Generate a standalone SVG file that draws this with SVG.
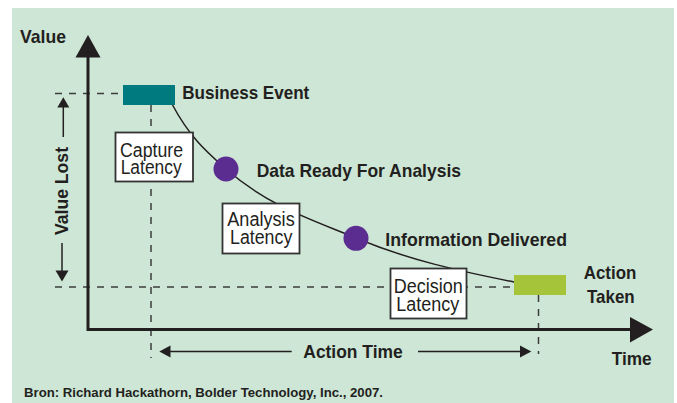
<svg xmlns="http://www.w3.org/2000/svg" width="677" height="403" viewBox="0 0 677 403">
  <style>
    .lbl { font-family: "Liberation Sans", Arial, sans-serif; font-weight: bold; font-size: 18.5px; fill: #231F20; }
    .box-text { font-family: "Liberation Sans", Arial, sans-serif; font-size: 19.5px; fill: #231F20; }
    .box { fill: #FFFFFF; stroke: #333333; stroke-width: 1.8; }
    .guide { fill: none; stroke: #3C3C3C; stroke-width: 1.5; stroke-dasharray: 7 7; }
    .axis { fill: none; stroke: #231F20; stroke-width: 3; }
    .thin { fill: none; stroke: #231F20; stroke-width: 1.5; }
    .head { fill: #231F20; }
    .src { font-family: "Liberation Sans", Arial, sans-serif; font-weight: bold; font-size: 12px; fill: #231F20; }
  </style>

  <!-- panel -->
  <rect x="0" y="0" width="677" height="403" fill="#FFFFFF"/>
  <rect x="12" y="8" width="662" height="395" fill="#CDE6D5"/>

  <!-- guide lines (dashed) -->
  <g id="guides">
    <line class="guide" x1="55" y1="93.5" x2="123" y2="93.5"/>
    <line class="guide" x1="55" y1="287" x2="514" y2="287"/>
    <line class="guide" x1="151" y1="105" x2="151" y2="358"/>
    <line class="guide" x1="538.5" y1="295" x2="538.5" y2="354"/>
  </g>

  <!-- axes -->
  <g id="axes">
    <polyline class="axis" points="88,56 88,329.5 632,329.5"/>
    <polygon class="head" points="88,35 75.5,57.5 100.5,57.5"/>
    <polygon class="head" points="653,329.5 630,317 630,342.5"/>
    <text class="lbl" x="20" y="42.7" textLength="46" lengthAdjust="spacingAndGlyphs">Value</text>
    <text class="lbl" x="611.7" y="365" textLength="40" lengthAdjust="spacingAndGlyphs">Time</text>
  </g>

  <!-- connectors -->
  <g id="connectors">
    <!-- value decay curve -->
    <path class="thin" d="M172,104 C190,138 208,153 226,169 C269,206.8 313,220 356,238 C409,260.3 461,271.4 514,282"/>
    <!-- value lost span -->
    <line class="thin" x1="63.3" y1="106" x2="63.3" y2="137"/>
    <polygon class="head" points="63.3,97.3 57.3,107.5 69.3,107.5"/>
    <line class="thin" x1="62" y1="243" x2="62" y2="272"/>
    <polygon class="head" points="62,281.5 55.5,270.5 68.5,270.5"/>
    <!-- action time span -->
    <line class="thin" x1="169" y1="351.5" x2="291.7" y2="351.5"/>
    <polygon class="head" points="159.3,351.5 170.5,345.5 170.5,357.5"/>
    <line class="thin" x1="418" y1="351.5" x2="521" y2="351.5"/>
    <polygon class="head" points="531.3,351.5 520,345.5 520,357.5"/>
  </g>

  <text class="lbl" transform="translate(68.3,235) rotate(-90)" x="0" y="0" textLength="88" lengthAdjust="spacingAndGlyphs">Value Lost</text>
  <text class="lbl" x="303.3" y="357.7" textLength="99.4" lengthAdjust="spacingAndGlyphs">Action Time</text>

  <!-- nodes -->
  <g id="business-event">
    <rect x="123" y="85" width="52" height="20" fill="#00797F"/>
    <text class="lbl" x="182.3" y="99.3" textLength="127" lengthAdjust="spacingAndGlyphs">Business Event</text>
  </g>

  <g id="capture-latency">
    <rect class="box" x="115.5" y="132.5" width="77.5" height="49"/>
    <text class="box-text" x="120" y="156.7" textLength="63" lengthAdjust="spacingAndGlyphs">Capture</text>
    <text class="box-text" x="120.7" y="173.5" textLength="61" lengthAdjust="spacingAndGlyphs">Latency</text>
  </g>

  <g id="data-ready">
    <circle cx="226" cy="169" r="12.5" fill="#5C2D91"/>
    <text class="lbl" x="256.7" y="176.7" textLength="204.3" lengthAdjust="spacingAndGlyphs">Data Ready For Analysis</text>
  </g>

  <g id="analysis-latency">
    <rect class="box" x="222.5" y="203.5" width="77" height="50"/>
    <text class="box-text" x="227.3" y="226.3" textLength="67.4" lengthAdjust="spacingAndGlyphs">Analysis</text>
    <text class="box-text" x="230" y="243.5" textLength="62.3" lengthAdjust="spacingAndGlyphs">Latency</text>
  </g>

  <g id="information-delivered">
    <circle cx="356" cy="238.3" r="12.5" fill="#5C2D91"/>
    <text class="lbl" x="385.3" y="245.7" textLength="181.7" lengthAdjust="spacingAndGlyphs">Information Delivered</text>
  </g>

  <g id="decision-latency">
    <rect class="box" x="390.5" y="268.5" width="76" height="50"/>
    <text class="box-text" x="393.7" y="292.7" textLength="69" lengthAdjust="spacingAndGlyphs">Decision</text>
    <text class="box-text" x="396.3" y="311" textLength="63" lengthAdjust="spacingAndGlyphs">Latency</text>
  </g>

  <g id="action-taken">
    <rect x="514" y="275" width="52" height="20" fill="#A6C43A"/>
    <text class="lbl" x="583.7" y="279.3" textLength="52.6" lengthAdjust="spacingAndGlyphs">Action</text>
    <text class="lbl" x="587" y="302.7" textLength="47.7" lengthAdjust="spacingAndGlyphs">Taken</text>
  </g>

  <text class="src" x="24" y="396.7" textLength="359" lengthAdjust="spacingAndGlyphs">Bron: Richard Hackathorn, Bolder Technology, Inc., 2007.</text>
</svg>
